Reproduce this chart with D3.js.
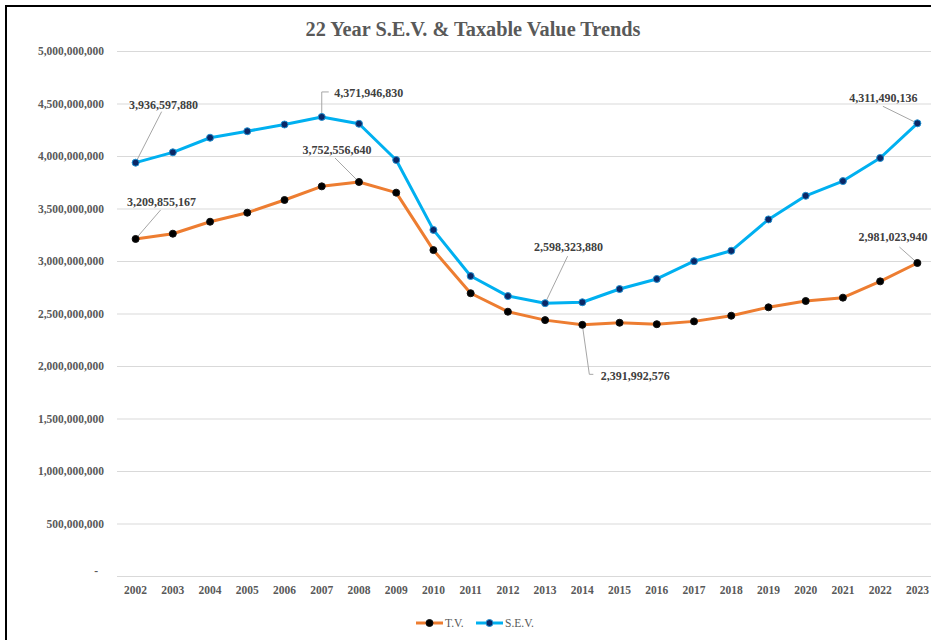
<!DOCTYPE html>
<html>
<head>
<meta charset="utf-8">
<title>22 Year S.E.V. & Taxable Value Trends</title>
<script src="https://cdn.jsdelivr.net/npm/d3@7"></script>
<style>
body { margin: 0; background: #fff; }
svg { display: block; font-family: "Liberation Serif", "Times New Roman", serif; }
.grid line { stroke: #d9d9d9; stroke-width: 1; }
.axis text { fill: #595959; font-size: 11.5px; font-weight: bold; }
.lbl { fill: #404040; font-size: 12px; font-weight: bold; }
.leader { stroke: #a6a6a6; stroke-width: 1; fill: none; }
</style>
</head>
<body>
<svg width="931" height="640"></svg>
<script>

var years = [2002, 2003, 2004, 2005, 2006, 2007, 2008, 2009, 2010, 2011, 2012,
             2013, 2014, 2015, 2016, 2017, 2018, 2019, 2020, 2021, 2022, 2023];

var sev = [3936597880, 4035000000, 4174000000, 4236000000, 4300000000, 4371946830,
           4307000000, 3962000000, 3296000000, 2857000000, 2666000000, 2598323880,
           2607000000, 2733000000, 2829000000, 2998000000, 3097000000, 3396000000,
           3621000000, 3761000000, 3981000000, 4311490136];

var tv = [3209855167, 3260000000, 3374000000, 3460000000, 3581000000, 3711000000,
          3752556640, 3651000000, 3104000000, 2693000000, 2517000000, 2437000000,
          2391992576, 2412000000, 2398000000, 2425000000, 2479000000, 2559000000,
          2619000000, 2651000000, 2806000000, 2981023940];

var yTicks = [0, 500000000, 1000000000, 1500000000, 2000000000, 2500000000,
              3000000000, 3500000000, 4000000000, 4500000000, 5000000000];

// which points carry a data label
var labelled = [
  { series: "sev", year: 2002 }, { series: "sev", year: 2007 },
  { series: "tv", year: 2002 },  { series: "tv", year: 2008 },
  { series: "sev", year: 2013 }, { series: "tv", year: 2014 },
  { series: "tv", year: 2023 },  { series: "sev", year: 2023 }
];

var svg = d3.select("svg");
var fmt = d3.format(",");

var x = d3.scaleBand().domain(years).range([117, 936]);
var y = d3.scaleLinear().domain([0, 5000000000]).range([576, 51]);
var cx = function(yr) { return x(yr) + x.bandwidth() / 2; };

// frame
svg.append("rect")
  .attr("x", 6).attr("y", 6).attr("width", 1000).attr("height", 1000)
  .attr("fill", "none").attr("stroke", "#000").attr("stroke-width", 2);

svg.append("text")
  .attr("x", 473).attr("y", 36)
  .attr("text-anchor", "middle")
  .attr("fill", "#595959")
  .style("font-size", "20.3px").style("font-weight", "bold")
  .text("22 Year S.E.V. & Taxable Value Trends");

svg.append("g").attr("class", "grid")
  .selectAll("line").data(yTicks).enter().append("line")
  .attr("x1", 117).attr("x2", 936)
  .attr("y1", function(d) { return y(d) + 0.5; })
  .attr("y2", function(d) { return y(d) + 0.5; });

var yAxis = svg.append("g").attr("class", "axis")
  .attr("transform", "translate(117,0)")
  .call(d3.axisLeft(y).tickValues(yTicks).tickSize(0).tickPadding(13)
    .tickFormat(function(d) { return d === 0 ? "-" : fmt(d); }))
  .attr("font-family", null).attr("font-size", null);
yAxis.select(".domain").remove();
yAxis.selectAll(".tick text").filter(function(d) { return d === 0; })
  .attr("dx", -6).attr("dy", "-0.1em");

var xAxis = svg.append("g").attr("class", "axis")
  .attr("transform", "translate(0,576)")
  .call(d3.axisBottom(x).tickSize(0).tickPadding(10))
  .attr("font-family", null).attr("font-size", null);
xAxis.select(".domain").remove();

var line = d3.line()
  .x(function(d, i) { return cx(years[i]); })
  .y(function(d) { return y(d); });

var series = [
  { key: "tv", name: "T.V.", values: tv, color: "#ED7D31", dot: "#000", dotStroke: "#111" },
  { key: "sev", name: "S.E.V.", values: sev, color: "#00B0F0", dot: "#0a2766", dotStroke: "#1f8fd0" }
];

series.forEach(function(s) {
  svg.append("path")
    .attr("d", line(s.values))
    .attr("fill", "none")
    .attr("stroke", s.color)
    .attr("stroke-width", 3)
    .attr("stroke-linejoin", "round");
});

// label layout, offsets from the point: text centre and leader path
var layout = {
  "sev2002": { tx: 28, ty: -58, path: [[26, -51]] },
  "sev2007": { tx: 47, ty: -24, path: [[0, -25], [7, -25]] },
  "tv2002":  { tx: 26, ty: -37, path: [[25, -29]] },
  "tv2008":  { tx: -22, ty: -32, path: [[-24, -24]] },
  "sev2013": { tx: 23.5, ty: -56, path: [[22.5, -47]] },
  "tv2014":  { tx: 53, ty: 51, path: [[7, 49.5], [11, 49.5]] },
  "tv2023":  { tx: -24.5, ty: -26.5, path: [[-18, -16]] },
  "sev2023": { tx: -34, ty: -25, path: [[-34.5, -17]] }
};

var ann = svg.append("g");
labelled.forEach(function(a) {
  var s = a.series === "sev" ? sev : tv;
  var v = s[years.indexOf(a.year)];
  var px = cx(a.year), py = y(v);
  var L = layout[a.series + a.year];
  var pts = [[px, py]].concat(L.path.map(function(p) { return [px + p[0], py + p[1]]; }));
  ann.append("path").attr("class", "leader").attr("d", d3.line()(pts));
  ann.append("text").attr("class", "lbl")
    .attr("x", px + L.tx).attr("y", py + L.ty)
    .attr("dy", "0.35em")
    .attr("text-anchor", "middle")
    .text(fmt(v));
});

series.forEach(function(s) {
  svg.append("g").selectAll("circle").data(s.values).enter().append("circle")
    .attr("cx", function(d, i) { return cx(years[i]); })
    .attr("cy", function(d) { return y(d); })
    .attr("r", 3.5)
    .attr("fill", s.dot)
    .attr("stroke", s.dotStroke)
    .attr("stroke-width", 1);
});

// legend
var legend = svg.append("g").attr("transform", "translate(416,623)");
var lx = 0;
series.forEach(function(s) {
  var g = legend.append("g").attr("transform", "translate(" + lx + ",0)");
  g.append("line").attr("x1", 0).attr("x2", 27).attr("y1", 0).attr("y2", 0)
    .attr("stroke", s.color).attr("stroke-width", 3);
  g.append("circle").attr("cx", 13.5).attr("cy", 0).attr("r", 3.5)
    .attr("fill", s.dot).attr("stroke", s.dotStroke);
  g.append("text").attr("x", 29).attr("dy", "0.35em")
    .attr("fill", "#595959").style("font-size", "11.5px")
    .text(s.name);
  lx += 60;
});

</script>
</body>
</html>
